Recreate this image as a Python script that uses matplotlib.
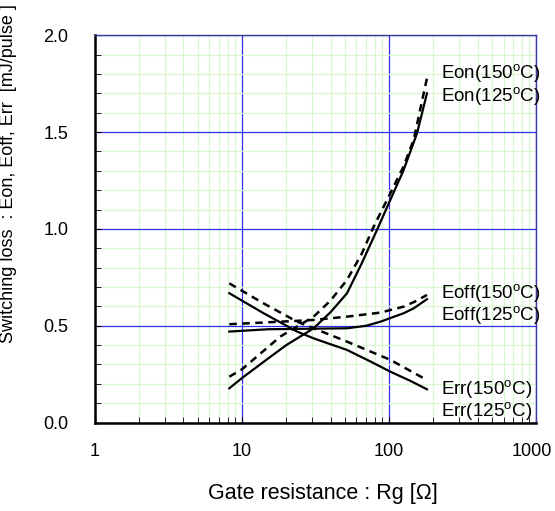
import matplotlib
matplotlib.use("Agg")
import matplotlib.pyplot as plt
import matplotlib.transforms as mtransforms
from matplotlib.ticker import MultipleLocator, LogLocator, FixedLocator, NullFormatter

plt.rcParams['font.family'] = ['Liberation Sans', 'DejaVu Sans']

# ------------------------
# DATA
# ------------------------
eon_125_rg = [8.2, 10, 15, 20, 30.7, 40, 51.8, 65, 82.8, 102, 125, 155, 181]
eon_125_e = [0.177, 0.23, 0.33, 0.40, 0.487, 0.57, 0.668, 0.82, 0.995, 1.15, 1.30, 1.494, 1.70]

eon_150_rg = [8.2, 10, 18.2, 30.7, 40, 51.8, 65, 78.6, 102, 125, 147, 181]
eon_150_e = [0.237, 0.275, 0.444, 0.547, 0.63, 0.737, 0.87, 1.012, 1.184, 1.32, 1.46, 1.778]

eoff_125_rg = [8.2, 15, 30.7, 51.8, 70, 87.3, 126, 147, 181]
eoff_125_e = [0.47, 0.482, 0.485, 0.487, 0.50, 0.521, 0.565, 0.59, 0.637]

eoff_150_rg = [8.2, 18.2, 30.7, 51.8, 87.3, 126, 150, 181]
eoff_150_e = [0.508, 0.521, 0.530, 0.547, 0.568, 0.599, 0.625, 0.659]

err_125_rg = [8.2, 14.0, 23.7, 30.7, 51.8, 75, 102, 140, 181]
err_125_e = [0.668, 0.565, 0.47, 0.435, 0.375, 0.315, 0.263, 0.215, 0.172]

err_150_rg = [8.2, 14.0, 23.7, 30.7, 51.8, 102, 172]
err_150_e = [0.719, 0.616, 0.521, 0.487, 0.418, 0.324, 0.229]

x_ticks = [1, 10, 100, 1000]
x_tick_labels = ["1", "10", "100", "1000"]

label_texts = ["Eon(150$^\\mathregular{o}$C)", "Eon(125$^\\mathregular{o}$C)",
               "Eoff(150$^\\mathregular{o}$C)", "Eoff(125$^\\mathregular{o}$C)",
               "Err(150$^\\mathregular{o}$C)", "Err(125$^\\mathregular{o}$C)"]
label_y = [1.80, 1.683, 0.668, 0.553, 0.17, 0.055]
label_x = 224

# ------------------------
# FIGURE
# ------------------------
fig = plt.figure(figsize=(5.55, 5.11), dpi=100)
ax = fig.add_axes([0.171, 0.173, 0.795, 0.758])

ax.set_xscale('log')
ax.set_xlim(1, 1000)
ax.set_ylim(0, 2.0)

# grids
ax.xaxis.set_major_locator(FixedLocator(x_ticks))
ax.xaxis.set_minor_locator(LogLocator(base=10, subs=range(2, 10)))
ax.xaxis.set_minor_formatter(NullFormatter())
ax.set_xticklabels(x_tick_labels)
ax.yaxis.set_major_locator(MultipleLocator(0.5))
ax.yaxis.set_minor_locator(MultipleLocator(0.1))
ax.grid(which='minor', color='#d8f7d0', linewidth=0.9)
ax.grid(which='major', color='#3030e8', linewidth=0.9)
ax.set_axisbelow(True)

ax.tick_params(which='both', direction='in', labelsize=13, color='black')
ax.tick_params(which='major', length=4)
ax.tick_params(which='minor', length=4)
ax.tick_params(axis='x', pad=15)
ax.tick_params(axis='y', pad=19)

# last x label sits right at the figure edge, nudge it in a little
last = ax.get_xticklabels()[-1]
last.set_transform(last.get_transform() +
                   mtransforms.ScaledTranslation(-3 / 72, 0, fig.dpi_scale_trans))

for side in ['left', 'bottom']:
    ax.spines[side].set_linewidth(1.8)
    ax.spines[side].set_color('black')
for side in ['top', 'right']:
    ax.spines[side].set_linewidth(1.0)
    ax.spines[side].set_color('#3a3a9a')

dash = (0, (3.0, 2.2))
ax.plot(eon_125_rg, eon_125_e, color='black', linewidth=1.6)
ax.plot(eon_150_rg, eon_150_e, color='black', linewidth=1.8, linestyle=dash)
ax.plot(eoff_125_rg, eoff_125_e, color='black', linewidth=1.6)
ax.plot(eoff_150_rg, eoff_150_e, color='black', linewidth=1.8, linestyle=dash)
ax.plot(err_125_rg, err_125_e, color='black', linewidth=1.6)
ax.plot(err_150_rg, err_150_e, color='black', linewidth=1.8, linestyle=dash)

for t, yv in zip(label_texts, label_y):
    ax.text(label_x, yv, t, fontsize=13.5, ha='left', va='center', clip_on=False)

ax.set_xlabel("Gate resistance : Rg [\u03a9]", fontsize=15.5)
ax.set_ylabel("Switching loss  : Eon, Eoff, Err  [mJ/pulse ]", fontsize=13)
ax.xaxis.set_label_coords(0.517, -0.155)
ax.yaxis.set_label_coords(-0.177, 0.642)

fig.savefig("out.png", dpi=100)
